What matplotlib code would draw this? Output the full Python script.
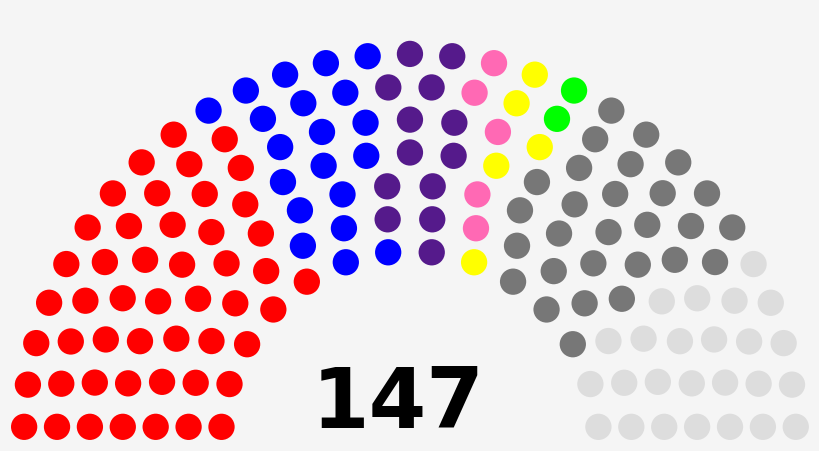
import math
import matplotlib
matplotlib.use("Agg")
import matplotlib.pyplot as plt
from matplotlib.patches import Circle

# Escaños por partido (en orden, de izquierda a derecha)
escanos = [49, 20, 13, 5, 5, 2, 28, 25]
colores = ["#FF0000", "#0000FF", "#551A8B", "#FF69B4", "#FFFF00",
           "#00FF00", "#777777", "#DDDDDD"]
total = sum(escanos)

# Disposición del hemiciclo (algoritmo clásico del diagrama parlamentario)
Totals = [3, 15, 33, 61, 95, 138, 189, 247, 313, 388, 469, 559, 657, 762]
for i, t in enumerate(Totals):
    if t >= total:
        rows = i + 1
        break
radius = 0.4 / rows


def fila(J, R, poslist):
    if J == 1:
        poslist.append([math.pi / 2.0, 1.75, R])
        return
    for j in range(J):
        angle = j * (math.pi - 2.0 * math.sin(radius / R)) / (J - 1.0) + math.sin(radius / R)
        poslist.append([angle, R * math.cos(angle) + 1.75, R * math.sin(angle)])


poslist = []
for i in range(1, rows):
    J = int(float(total) / Totals[rows - 1] * math.pi / (2 * math.asin(2.0 / (3.0 * rows + 4.0 * i - 2.0))))
    R = (3.0 * rows + 4.0 * i - 2.0) / (4.0 * rows)
    fila(J, R, poslist)
fila(total - len(poslist), (7.0 * rows - 2.0) / (4.0 * rows), poslist)
poslist.sort(reverse=True)

fig = plt.figure(figsize=(8.2, 4.51), dpi=100)
fig.patch.set_facecolor("#F5F5F5")
ax = fig.add_axes([0, 0, 1, 1])
ax.set_facecolor("#F5F5F5")

k = 0
for n, c in zip(escanos, colores):
    for _ in range(n):
        _, x, y = poslist[k]
        ax.add_patch(Circle((x, y), radius, facecolor=c, edgecolor="none"))
        k += 1

ax.text(1.70, 0.05, str(total), ha="center", va="baseline",
        fontsize=59.6, fontweight="bold", family="DejaVu Sans")

ax.set_xlim(-0.0326, 3.533)
ax.set_ylim(-0.048, 1.913)
ax.axis("off")
fig.savefig("out.png", dpi=100, facecolor=fig.get_facecolor())
